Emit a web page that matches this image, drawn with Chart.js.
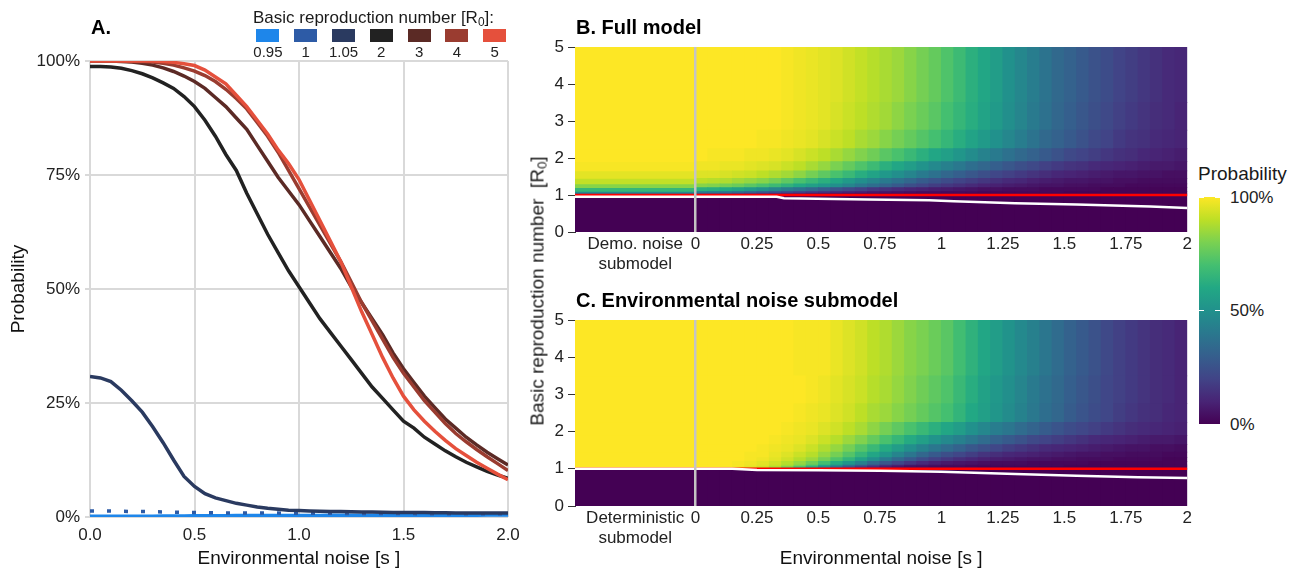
<!DOCTYPE html>
<html>
<head>
<meta charset="utf-8">
<title>Outbreak probability</title>
<script src="https://cdn.jsdelivr.net/npm/chart.js@4.4.1/dist/chart.umd.min.js"></script>
<style>
  body { margin: 0; background: #fff; }
  #page { position: relative; width: 1294px; height: 571px; overflow: hidden;
          font-family: "Liberation Sans", Arial, Helvetica, sans-serif; color: #1a1a1a; }
  canvas { position: absolute; }
  .txt { position: absolute; white-space: nowrap; line-height: 1; }
  .panel { font-size: 20px; font-weight: bold; color: #000; }
  sub { font-size: 70%; vertical-align: -0.25em; line-height: 0; }
  .legItem { width: 37.8px; display: flex; flex-direction: column; align-items: center; }
  .legSwatch { width: 23px; height: 13px; }
  .legLabel { font-size: 15px; line-height: 1; margin-top: 2px; color: #222; }
</style>
</head>
<body>
<div id="page">
  <canvas id="chartA" width="530" height="571" style="left:0px;top:0px"></canvas>
  <canvas id="chartB" width="675" height="275" style="left:520px;top:0px"></canvas>
  <canvas id="chartC" width="675" height="301" style="left:520px;top:270px"></canvas>

  <div class="txt panel" style="left:91px;top:17px">A.</div>
  <div class="txt panel" style="left:576px;top:17px">B. Full model</div>
  <div class="txt panel" style="left:576px;top:290px">C. Environmental noise submodel</div>

  <div class="txt" style="left:253px;top:9px;font-size:17px">Basic reproduction number [R<sub>0</sub>]:</div>
  <div id="legendA" style="position:absolute;left:249px;top:29px;display:flex"></div>

  <div class="txt" style="left:537px;top:291px;font-size:19px;transform:translate(-50%,-50%) rotate(-90deg)">Basic reproduction number&nbsp; [R<sub>0</sub>]</div>

  <div class="txt" style="left:1198px;top:164px;font-size:19px">Probability</div>
  <div id="colorbar" style="position:absolute;left:1199px;top:197px;width:21px;height:227px"></div>
  <div id="colorbarLabels"></div>
</div>

<script>
/* ---------- panel A: probability vs environmental noise ---------- */

const noiseA = [0, 0.05, 0.1, 0.15, 0.2, 0.25, 0.3, 0.35, 0.4, 0.45,
                0.5, 0.55, 0.6, 0.65, 0.7, 0.75, 0.8, 0.85, 0.9, 0.95,
                1, 1.05, 1.1, 1.15, 1.2, 1.25, 1.3, 1.35, 1.4, 1.45,
                1.5, 1.55, 1.6, 1.65, 1.7, 1.75, 1.8, 1.85, 1.9, 1.95, 2];

const r0Labels = ['0.95', '1', '1.05', '2', '3', '4', '5'];
const r0Colors = ['#1e86ea', '#2d5ba6', '#2a3a60', '#222222', '#5b2a25', '#9a3c30', '#e5503c'];

// probability (%), one value per noise level
const probR0_095 = [0.1, 0.1, 0.1, 0.1, 0.1, 0.1, 0.1, 0.15, 0.15, 0.15,
                    0.2, 0.2, 0.2, 0.2, 0.25, 0.25, 0.25, 0.25, 0.3, 0.3,
                    0.3, 0.3, 0.3, 0.35, 0.35, 0.35, 0.35, 0.35, 0.4, 0.4,
                    0.4, 0.4, 0.4, 0.45, 0.45, 0.45, 0.45, 0.45, 0.5, 0.5, 0.5];
const probR0_1 = [1.3, 1.3, 1.3, 1.25, 1.2, 1.2, 1.15, 1.1, 1.05, 1.0,
                  1.0, 0.95, 0.95, 0.9, 0.9, 0.9, 0.85, 0.85, 0.85, 0.8,
                  0.8, 0.8, 0.8, 0.8, 0.8, 0.75, 0.75, 0.75, 0.75, 0.75,
                  0.75, 0.75, 0.7, 0.7, 0.7, 0.7, 0.7, 0.7, 0.7, 0.7, 0.7];
const probR0_105 = [30.8, 30.5, 29.7, 27.8, 25.5, 23, 19.8, 16.3, 12.5, 8.9,
                    6.7, 5.1, 4.2, 3.6, 3.0, 2.6, 2.2, 1.9, 1.7, 1.5,
                    1.4, 1.3, 1.25, 1.2, 1.2, 1.15, 1.1, 1.1, 1.05, 1.0,
                    1.0, 1.0, 1.0, 0.95, 0.95, 0.9, 0.9, 0.9, 0.9, 0.85, 0.85];
const probR0_2 = [98.8, 98.8, 98.7, 98.4, 97.9, 97.2, 96.3, 95.2, 94, 92.2,
                  90, 87, 83.5, 79.5, 76, 71, 66.5, 62, 58, 54,
                  50.5, 47, 43.5, 40.5, 37.5, 34.5, 31.5, 28.5, 26, 23.5,
                  21, 19.5, 17.5, 16, 14.5, 13.2, 12, 11, 10, 9.2, 8.5];
const probR0_3 = [100, 100, 100, 99.9, 99.8, 99.5, 99.1, 98.5, 97.7, 96.7,
                  95.5, 94, 92, 90, 87.5, 85, 81.5, 78, 74.5, 71.5,
                  68.5, 65, 61.5, 58, 54.5, 50.5, 47, 43.5, 40, 36,
                  32.5, 29.5, 26.5, 24, 21.5, 19.5, 17.5, 15.8, 14.2, 12.8, 11.4];
const probR0_4 = [100, 100, 100, 100, 99.9, 99.9, 99.8, 99.5, 99.1, 98.5,
                  97.8, 96.8, 95.5, 93.8, 91.8, 89.5, 86.5, 83.5, 80, 76,
                  72, 68, 64, 60, 56, 51.5, 47, 43, 39, 35,
                  31.5, 28.5, 25.5, 23, 20.5, 18.3, 16.5, 14.8, 13.2, 11.7, 10.2];
const probR0_5 = [100, 100, 100, 100, 100, 100, 100, 99.9, 99.7, 99.4,
                  99, 98, 96.5, 95, 92.5, 90, 87, 84, 80.5, 77.5,
                  74, 69.5, 65, 60.5, 56, 50.5, 45, 40, 35, 30.5,
                  26.5, 23.5, 21, 18.8, 16.8, 15, 13.5, 12, 10.7, 9.4, 8.2];

/* ---------- panels B and C: heatmaps ---------- */

// centre of each simulated noise column (0.05 wide)
const noiseCells = [0.025, 0.075, 0.125, 0.175, 0.225, 0.275, 0.325, 0.375, 0.425, 0.475,
                    0.525, 0.575, 0.625, 0.675, 0.725, 0.775, 0.825, 0.875, 0.925, 0.975,
                    1.025, 1.075, 1.125, 1.175, 1.225, 1.275, 1.325, 1.375, 1.425, 1.475,
                    1.525, 1.575, 1.625, 1.675, 1.725, 1.775, 1.825, 1.875, 1.925, 1.975];

// R0 band edges, band i runs from r0Edges[i] to r0Edges[i+1]
const r0Edges = [0, 1, 1.05, 1.1, 1.2, 1.3, 1.45, 1.65, 1.9, 2.25, 2.75, 3.5, 5];
const threshold = 1;

// heatmap tick positions / labels
const heatTickValues = [-0.245, 0, 0.25, 0.5, 0.75, 1, 1.25, 1.5, 1.75, 2];
const fullTickLabels = [['Demo. noise', 'submodel'], '0', '0.25', '0.5', '0.75', '1', '1.25', '1.5', '1.75', '2'];
const envTickLabels = [['Deterministic', 'submodel'], '0', '0.25', '0.5', '0.75', '1', '1.25', '1.5', '1.75', '2'];

// B. full model, probability (%) per band
const fullBand00 = [0, 0, 0, 0, 0, 0, 0, 0, 0, 0, 0, 0, 0, 0, 0, 0, 0, 0, 0, 0,
                    0, 0, 0, 0, 0, 0, 0, 0, 0, 0, 0, 0, 0, 0, 0, 0, 0, 0, 0, 0];
const fullBand01 = [28, 27, 25, 22, 19, 16, 14, 12, 10, 8, 7, 6, 5, 4, 4, 3, 3, 2, 2, 2,
                    2, 2, 1, 1, 1, 1, 1, 1, 1, 1, 1, 1, 1, 1, 1, 1, 1, 1, 1, 1];
const fullBand02 = [45, 44, 42, 39, 35, 31, 28, 25, 22, 19, 17, 14, 12, 10, 8, 7, 6, 5, 4, 4,
                    3, 3, 3, 2, 2, 2, 2, 2, 2, 2, 1, 1, 1, 1, 1, 1, 1, 1, 1, 1];
const fullBand03 = [63, 62, 60, 57, 53, 49, 45, 41, 37, 33, 29, 25, 22, 19, 16, 14, 12, 10, 9, 8,
                    7, 6, 5, 4, 4, 3, 3, 3, 2, 2, 2, 2, 2, 1, 1, 1, 1, 1, 1, 1];
const fullBand04 = [82, 81, 79, 77, 74, 71, 68, 64, 60, 56, 53, 49, 45, 40, 36, 32, 28, 24, 21, 18,
                    16, 14, 12, 10, 9, 8, 7, 6, 5, 5, 4, 4, 3, 3, 3, 2, 2, 2, 2, 2];
const fullBand05 = [90, 89, 88, 86, 84, 82, 79, 75, 71, 67, 63, 59, 54, 49, 45, 41, 37, 33, 29, 26,
                    23, 20, 18, 16, 14, 12, 11, 9, 8, 7, 6, 6, 5, 5, 4, 4, 3, 3, 3, 3];
const fullBand06 = [95, 95, 94, 93, 92, 90, 88, 86, 83, 79, 75, 71, 67, 62, 58, 53, 49, 45, 41, 37,
                    33, 30, 27, 24, 21, 19, 17, 15, 13, 11, 10, 9, 8, 7, 6, 6, 5, 5, 4, 4];
const fullBand07 = [98, 98, 97, 97, 96, 95, 94, 92, 90, 87, 84, 80, 76, 72, 68, 63, 59, 55, 51, 47,
                    43, 40, 36, 33, 30, 27, 24, 22, 19, 17, 15, 14, 12, 11, 10, 9, 8, 7, 7, 6];
const fullBand08 = [100, 99, 99, 99, 98, 98, 97, 96, 94, 92, 90, 87, 84, 81, 78, 74, 71, 67, 63, 59,
                    56, 52, 48, 44, 41, 37, 34, 31, 28, 25, 22, 20, 18, 16, 14, 13, 11, 10, 9, 8];
const fullBand09 = [100, 100, 100, 100, 100, 99, 99, 98, 97, 96, 94, 92, 90, 87, 85, 82, 79, 76, 73, 70,
                    66, 62, 58, 54, 50, 46, 42, 38, 34, 31, 28, 25, 22, 20, 17, 15, 14, 12, 11, 10];
const fullBand10 = [100, 100, 100, 100, 100, 100, 100, 99, 98, 97, 96, 94, 92, 90, 88, 86, 83, 80, 77, 74,
                    70, 66, 62, 58, 54, 49, 45, 41, 37, 33, 30, 27, 24, 22, 19, 17, 15, 13, 12, 10];
const fullBand11 = [100, 100, 100, 100, 100, 100, 100, 99, 98, 97, 96, 95, 93, 91, 89, 87, 85, 82, 79, 76,
                    72, 68, 63, 59, 55, 50, 46, 42, 38, 34, 31, 28, 25, 23, 20, 18, 16, 14, 12, 11];
// demographic-noise submodel column, one value per band
const fullDemo = [0, 30, 47, 66, 82, 91, 96, 99, 100, 100, 100, 100];
// white contour line in B
const contourNoiseFull = [-0.49, 0.33, 0.36, 0.7, 0.95, 1.05, 1.3, 1.55, 1.85, 2];
const contourR0Full = [0.95, 0.95, 0.91, 0.88, 0.86, 0.83, 0.78, 0.74, 0.69, 0.65];

// C. environmental noise submodel, probability (%) per band
const envBand00 = [0, 0, 0, 0, 0, 0, 0, 0, 0, 0, 0, 0, 0, 0, 0, 0, 0, 0, 0, 0,
                   0, 0, 0, 0, 0, 0, 0, 0, 0, 0, 0, 0, 0, 0, 0, 0, 0, 0, 0, 0];
const envBand01 = [100, 100, 99, 98, 95, 91, 85, 76, 65, 53, 41, 30, 21, 14, 9, 6, 4, 3, 3, 2,
                   2, 2, 2, 1, 1, 1, 1, 1, 1, 1, 1, 1, 1, 1, 1, 1, 1, 1, 1, 1];
const envBand02 = [100, 100, 100, 99, 97, 95, 91, 86, 79, 70, 58, 47, 36, 27, 19, 13, 9, 6, 5, 4,
                   3, 3, 2, 2, 2, 2, 2, 2, 2, 2, 1, 1, 1, 1, 1, 1, 1, 1, 1, 1];
const envBand03 = [100, 100, 100, 99, 98, 96, 93, 89, 84, 78, 70, 61, 52, 43, 34, 27, 21, 16, 12, 9,
                   7, 6, 5, 4, 3, 3, 3, 2, 2, 2, 2, 2, 1, 1, 1, 1, 1, 1, 1, 1];
const envBand04 = [100, 100, 100, 100, 99, 98, 96, 93, 89, 85, 79, 72, 65, 57, 49, 41, 34, 28, 23, 19,
                   16, 13, 11, 9, 8, 7, 6, 5, 5, 4, 4, 3, 3, 3, 2, 2, 2, 2, 1, 1];
const envBand05 = [100, 100, 100, 100, 99, 99, 97, 95, 92, 89, 84, 79, 73, 66, 59, 52, 45, 39, 33, 28,
                   24, 21, 18, 15, 13, 11, 10, 9, 8, 7, 6, 5, 5, 4, 4, 3, 3, 3, 2, 2];
const envBand06 = [100, 100, 100, 100, 100, 99, 98, 97, 95, 92, 88, 84, 79, 73, 67, 61, 55, 49, 44, 39,
                   35, 31, 27, 24, 21, 18, 16, 14, 12, 11, 10, 9, 8, 7, 6, 5, 5, 4, 4, 3];
const envBand07 = [100, 100, 100, 100, 100, 100, 99, 98, 97, 95, 92, 89, 85, 81, 76, 71, 66, 61, 56, 51,
                   47, 43, 39, 35, 31, 28, 25, 22, 20, 18, 16, 14, 12, 11, 10, 9, 8, 7, 7, 6];
const envBand08 = [100, 100, 100, 100, 100, 100, 100, 99, 98, 97, 95, 93, 90, 87, 83, 79, 75, 71, 67, 63,
                   59, 55, 50, 46, 42, 39, 35, 32, 29, 26, 23, 21, 19, 17, 15, 13, 12, 11, 10, 9];
const envBand09 = [100, 100, 100, 100, 100, 100, 100, 100, 99, 98, 97, 95, 93, 90, 87, 85, 82, 79, 76, 73,
                   70, 65, 60, 56, 52, 48, 44, 40, 36, 33, 29, 26, 23, 21, 18, 16, 14, 13, 11, 10];
const envBand10 = [100, 100, 100, 100, 100, 100, 100, 100, 100, 99, 98, 96, 94, 92, 89, 87, 84, 81, 78, 75,
                   72, 67, 62, 57, 53, 49, 45, 41, 37, 34, 30, 27, 24, 21, 19, 17, 15, 13, 12, 10];
const envBand11 = [100, 100, 100, 100, 100, 100, 100, 100, 99, 99, 99, 97, 95, 93, 90, 88, 85, 82, 80, 77,
                   74, 69, 64, 59, 55, 51, 47, 43, 39, 35, 31, 28, 25, 22, 19, 17, 15, 13, 12, 10];
// deterministic submodel column
const envDeterministic = [0, 100, 100, 100, 100, 100, 100, 100, 100, 100, 100, 100];
// white contour line in C
const contourNoiseEnv = [-0.49, 0.15, 0.25, 0.5, 0.75, 1.0, 1.3, 1.55, 1.8, 2];
const contourR0Env = [1.0, 1.0, 0.97, 0.96, 0.95, 0.92, 0.86, 0.81, 0.77, 0.75];

/* ---------- styling helpers ---------- */

const FONT = '"Liberation Sans", Arial, Helvetica, sans-serif';
Chart.defaults.font.family = FONT;
Chart.defaults.color = '#222';

const viridisStops = ['#440154', '#482475', '#414487', '#355f8d', '#2a788e', '#21918c',
                      '#22a884', '#44bf70', '#7ad151', '#bddf26', '#fde725'];

function hexToRgb(h) {
  return [parseInt(h.slice(1, 3), 16), parseInt(h.slice(3, 5), 16), parseInt(h.slice(5, 7), 16)];
}

function viridis(t) {
  t = Math.max(0, Math.min(1, t));
  const pos = t * (viridisStops.length - 1);
  const i = Math.min(Math.floor(pos), viridisStops.length - 2);
  const f = pos - i;
  const a = hexToRgb(viridisStops[i]);
  const b = hexToRgb(viridisStops[i + 1]);
  const c = a.map((v, j) => Math.round(v + (b[j] - v) * f));
  return 'rgb(' + c.join(',') + ')';
}

/* ---------- panel A chart ---------- */

const seriesA = [probR0_095, probR0_1, probR0_105, probR0_2, probR0_3, probR0_4, probR0_5];

// first dataset is drawn on top, so reverse: R0 = 5 ends up on top like the original
const datasetsA = seriesA.map((vals, i) => ({
  label: r0Labels[i],
  data: vals.map((p, k) => ({ x: noiseA[k], y: p })),
  borderColor: r0Colors[i],
  borderWidth: r0Labels[i] === '0.95' ? 4 : 3.5,
  borderDash: r0Labels[i] === '1' ? [4, 13] : [],
  borderCapStyle: 'butt',
  pointRadius: 0,
  tension: 0
})).reverse();

new Chart(document.getElementById('chartA'), {
  type: 'line',
  data: { datasets: datasetsA },
  options: {
    responsive: false,
    animation: false,
    events: [],
    layout: { padding: { left: 0, top: 61, right: 22, bottom: 0 } },
    plugins: { legend: { display: false }, tooltip: { enabled: false } },
    scales: {
      x: {
        type: 'linear', min: 0, max: 2,
        afterFit: (s) => { s.height = 54; },
        ticks: { stepSize: 0.5, callback: (v) => v.toFixed(1), font: { size: 17 }, color: '#222', padding: 8, maxRotation: 0 },
        grid: { color: '#d9d9d9', lineWidth: 2, drawTicks: false },
        border: { display: false },
        title: { display: true, text: 'Environmental noise [s ]', font: { size: 19 }, color: '#111', padding: { top: 0, bottom: 1 } }
      },
      y: {
        min: 0, max: 100,
        afterFit: (s) => { s.width = 90; },
        ticks: { stepSize: 25, callback: (v) => v + '%', font: { size: 17 }, color: '#222', padding: 5 },
        grid: { color: '#d9d9d9', lineWidth: 2, tickLength: 5 },
        border: { display: false },
        title: { display: true, text: 'Probability', font: { size: 19 }, color: '#111', padding: { top: 7, bottom: 0 } }
      }
    }
  }
});

// legend for panel A
const legendA = document.getElementById('legendA');
r0Labels.forEach((lab, i) => {
  const item = document.createElement('div');
  item.className = 'legItem';
  item.innerHTML = '<div class="legSwatch" style="background:' + r0Colors[i] + '"></div>' +
                   '<div class="legLabel">' + lab + '</div>';
  legendA.appendChild(item);
});

/* ---------- panels B and C charts ---------- */

const sRange = [-0.49, 2];
const sideColumn = { center: -0.245, width: 0.49 };

const cellStyle = {
  type: 'bar',
  grouped: false,
  barPercentage: 1,
  categoryPercentage: 1,
  borderWidth: 0,
  inflateAmount: 0.4,
  order: 10,
  backgroundColor: (ctx) => ctx.raw ? viridis(ctx.raw.v / 100) : '#440154'
};

function heatmap(canvasId, bands, sideValues, contourS, contourR0, tickLabels, padTop, axisHeight, xTitle) {
  const cellWidth = noiseCells[1] - noiseCells[0];
  const datasets = [];

  bands.forEach((vals, b) => {
    datasets.push(Object.assign({}, cellStyle, {
      data: noiseCells.map((s, k) => ({ x: s, y: [r0Edges[b], r0Edges[b + 1]], v: vals[k] }))
    }));
  });

  datasets.push(Object.assign({}, cellStyle, {
    barPercentage: sideColumn.width / cellWidth,
    data: sideValues.map((v, b) => ({ x: sideColumn.center, y: [r0Edges[b], r0Edges[b + 1]], v: v }))
  }));

  datasets.push({
    type: 'line',
    data: [{ x: sRange[0], y: threshold }, { x: sRange[1], y: threshold }],
    borderColor: '#ff0000', borderWidth: 2.5, pointRadius: 0, order: 2
  });

  datasets.push({
    type: 'line',
    data: contourS.map((s, i) => ({ x: s, y: contourR0[i] })),
    borderColor: '#ffffff', borderWidth: 2.5, pointRadius: 0, order: 1
  });

  return new Chart(document.getElementById(canvasId), {
    type: 'bar',
    data: { datasets },
    options: {
      responsive: false,
      animation: false,
      events: [],
      layout: { padding: { left: 0, top: padTop, right: 7, bottom: 0 } },
      plugins: { legend: { display: false }, tooltip: { enabled: false } },
      scales: {
        x: {
          type: 'linear', min: sRange[0], max: sRange[1], offset: false,
          afterBuildTicks: (axis) => { axis.ticks = heatTickValues.map((v) => ({ value: v })); },
          afterFit: (s) => { s.height = axisHeight; },
          ticks: {
            autoSkip: false, maxRotation: 0, padding: 3, color: '#222',
            font: { size: 17, lineHeight: 1.15 },
            callback: (v, i) => tickLabels[i]
          },
          grid: {
            z: 1, offset: false, drawTicks: false, lineWidth: 2.5,
            color: (ctx) => (ctx.tick && ctx.tick.value === 0) ? '#c4c4c4' : 'rgba(0,0,0,0)'
          },
          border: { display: false },
          title: xTitle
            ? { display: true, text: xTitle, font: { size: 19 }, color: '#111', padding: { top: 0, bottom: 1 } }
            : { display: false }
        },
        y: {
          min: 0, max: 5,
          afterFit: (s) => { s.width = 55; },
          ticks: { stepSize: 1, font: { size: 17 }, color: '#222', padding: 4 },
          grid: { drawOnChartArea: false, tickLength: 7, color: '#333', lineWidth: 1 },
          border: { display: true, color: '#333', width: 1 }
        }
      }
    }
  });
}

heatmap('chartB',
  [fullBand00, fullBand01, fullBand02, fullBand03, fullBand04, fullBand05,
   fullBand06, fullBand07, fullBand08, fullBand09, fullBand10, fullBand11],
  fullDemo, contourNoiseFull, contourR0Full, fullTickLabels, 47, 43, null);

heatmap('chartC',
  [envBand00, envBand01, envBand02, envBand03, envBand04, envBand05,
   envBand06, envBand07, envBand08, envBand09, envBand10, envBand11],
  envDeterministic, contourNoiseEnv, contourR0Env, envTickLabels, 50, 65, 'Environmental noise [s ]');

/* ---------- colour bar legend ---------- */

const colorbarTicks = [100, 50, 0];
const bar = document.getElementById('colorbar');
bar.style.background = 'linear-gradient(to top, ' +
  viridisStops.map((c, i) => c + ' ' + (i * 10) + '%').join(', ') + ')';
const barTop = 197, barHeight = 227;
const labelsBox = document.getElementById('colorbarLabels');
colorbarTicks.forEach((p) => {
  const y = barTop + barHeight * (1 - p / 100);
  const lab = document.createElement('div');
  lab.className = 'txt';
  lab.style.cssText = 'left:1230px;top:' + (y - 8.5) + 'px;font-size:17px;color:#222';
  lab.textContent = p + '%';
  labelsBox.appendChild(lab);
  ['1199px', '1215px'].forEach((x) => {
    const t = document.createElement('div');
    t.style.cssText = 'position:absolute;left:' + x + ';top:' + (y - 0.5) + 'px;width:5px;height:1px;background:#fff';
    labelsBox.appendChild(t);
  });
});
</script>
</body>
</html>
